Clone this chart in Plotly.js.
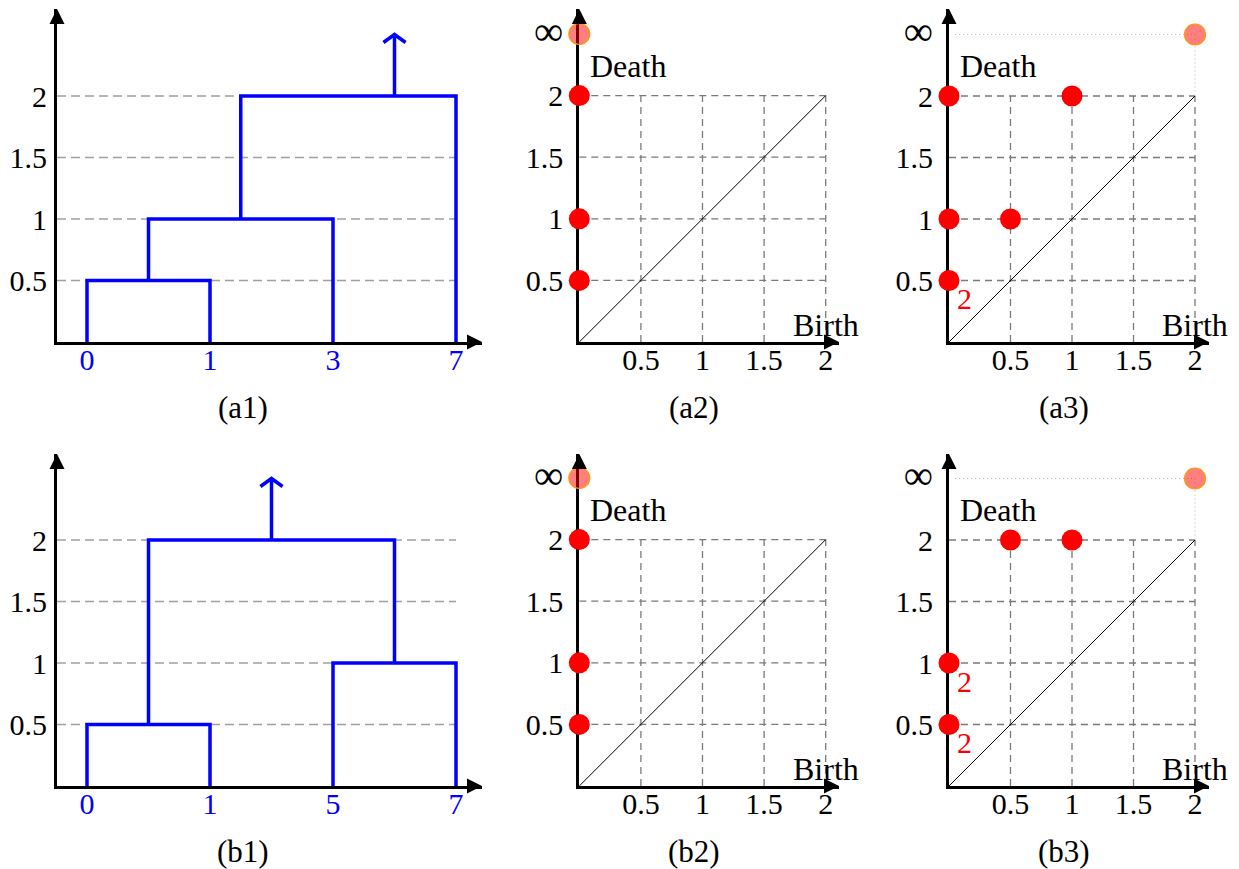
<!DOCTYPE html>
<html><head><meta charset="utf-8">
<script src="https://cdn.plot.ly/plotly-3.0.1.min.js"></script>
<style>html,body{margin:0;padding:0;background:#fff}#chart{width:1239px;height:869px}</style>
</head><body><div id="chart"></div>
<script>
// ---------- data ----------
// (a1) dendrogram
const a1LeafLabels = ['0', '1', '3', '7'];
const a1LeafPos = [0, 1, 2, 3];
const a1MergeLeftX = [0, 0.5, 1.25];
const a1MergeLeftBase = [0, 0.5, 1];
const a1MergeRightX = [1, 2, 3];
const a1MergeRightBase = [0, 0, 0];
const a1MergeHeight = [0.5, 1, 2];
const a1RootX = 2.5, a1RootTop = 2.5;
// (b1) dendrogram
const b1LeafLabels = ['0', '1', '5', '7'];
const b1LeafPos = [0, 1, 2, 3];
const b1MergeLeftX = [0, 2, 0.5];
const b1MergeLeftBase = [0, 0, 0.5];
const b1MergeRightX = [1, 3, 2.5];
const b1MergeRightBase = [0, 0, 1];
const b1MergeHeight = [0.5, 1, 2];
const b1RootX = 1.5, b1RootTop = 2.5;
// tick values
const dendroTickVals = [0.5, 1, 1.5, 2];
const gridTicks = [0.5, 1, 1.5, 2];
const INF = 2.5;
const deathTickVals = [0.5, 1, 1.5, 2, INF];
const deathTickText = ['0.5', '1', '1.5', '2', '<span style="font-size:41px">∞</span>'];
// persistence diagrams (birth, death, multiplicity); infinite bars' births
const a2Birth = [0, 0, 0], a2Death = [0.5, 1, 2], a2Mult = [1, 1, 1], a2InfBirth = [0];
const a3Birth = [0, 0, 0, 0.5, 1], a3Death = [0.5, 1, 2, 1, 2], a3Mult = [2, 1, 1, 1, 1], a3InfBirth = [2];
const b2Birth = [0, 0, 0], b2Death = [0.5, 1, 2], b2Mult = [1, 1, 1], b2InfBirth = [0];
const b3Birth = [0, 0, 0.5, 1], b3Death = [0.5, 1, 2, 2], b3Mult = [2, 2, 1, 1], b3InfBirth = [2];
const captions = ['(a1)', '(a2)', '(a3)', '(b1)', '(b2)', '(b3)'];

// ---------- layout helpers ----------
const FONT = 'Liberation Serif, Times New Roman, serif';
const W = 1239, H = 869;
const fx = p => p / W, fy = p => 1 - p / H;
const BLUE = '#0000ff';
const TICK = 30;

// panel frames in pixels: origin, scale, extent of arrows
const frames = [
  {ox: 87, oy: 342, s: 123, x0: 57, x1: 482, y1: 9, cx: 243, cy: 407, ys: 1},
  {ox: 579.3, oy: 342, s: 123.2, x0: 579.3, x1: 839, y1: 9, cx: 694, cy: 407, ys: 7},
  {ox: 949, oy: 342, s: 123, x0: 949, x1: 1209, y1: 9, cx: 1064, cy: 407, ys: 7},
  {ox: 87, oy: 786, s: 123, x0: 57, x1: 482, y1: 454, cx: 243, cy: 851, ys: 1},
  {ox: 579.3, oy: 786, s: 123.2, x0: 579.3, x1: 839, y1: 454, cx: 694, cy: 851, ys: 7},
  {ox: 949, oy: 786, s: 123, x0: 949, x1: 1209, y1: 454, cx: 1064, cy: 851, ys: 7}
];

const layout = {
  width: W, height: H, margin: {l: 0, r: 0, t: 0, b: 0},
  paper_bgcolor: '#fff', plot_bgcolor: 'rgba(0,0,0,0)',
  showlegend: false, shapes: [], annotations: [],
  font: {family: FONT, size: TICK, color: '#000'}
};
const traces = [];

frames.forEach((f, i) => {
  const k = i + 1;
  const xr = [(f.x0 - f.ox) / f.s, (f.x1 - f.ox) / f.s];
  const yr = [0, (f.oy - f.y1) / f.s];
  const common = {showgrid: false, zeroline: false, showline: true, linewidth: 3, linecolor: '#000',
    ticks: '', layer: 'below traces', fixedrange: true, tickmode: 'array'};
  layout['xaxis' + k] = Object.assign({}, common, {
    domain: [fx(f.x0), fx(f.x1)], range: xr, anchor: 'y' + k, ticklabelstandoff: -11,
    tickfont: {family: FONT, size: TICK, color: '#000'}
  });
  layout['yaxis' + k] = Object.assign({}, common, {
    domain: [fy(f.oy), fy(f.y1)], range: yr, anchor: 'x' + k, ticklabelstandoff: f.ys,
    tickfont: {family: FONT, size: TICK, color: '#000'}
  });
  // arrowheads
  layout.annotations.push({xref: 'x' + k, yref: 'y' + k, x: xr[1], y: 0, ax: -14, ay: 0,
    showarrow: true, arrowhead: 2, arrowwidth: 3, arrowsize: 1, arrowcolor: '#000', text: ''});
  layout.annotations.push({xref: 'x' + k, yref: 'y' + k, x: xr[0], y: yr[1], ax: 0, ay: 14,
    showarrow: true, arrowhead: 2, arrowwidth: 3, arrowsize: 1, arrowcolor: '#000', text: ''});
  // caption
  layout.annotations.push({xref: 'paper', yref: 'paper', x: fx(f.cx), y: fy(f.cy), text: captions[i],
    showarrow: false, xanchor: 'center', yanchor: 'middle', font: {family: FONT, size: 31, color: '#000'}});
});

// ---------- dendrograms ----------
function dendro(k, leafPos, leafLabels, lx, lb, rx, rb, h, rootX, rootTop) {
  const xa = layout['xaxis' + k], ya = layout['yaxis' + k];
  xa.tickvals = leafPos; xa.ticktext = leafLabels; xa.tickfont.color = BLUE;
  ya.tickvals = dendroTickVals;
  // dashed guides
  dendroTickVals.forEach(v => layout.shapes.push({type: 'line', xref: 'x' + k, yref: 'y' + k, layer: 'below',
    x0: xa.range[0], x1: leafPos[leafPos.length - 1], y0: v, y1: v,
    line: {color: '#a0a0a0', width: 1.3, dash: '9px,5px'}}));
  const X = [], Y = [];
  for (let j = 0; j < h.length; j++) {
    X.push(lx[j], lx[j], rx[j], rx[j], null);
    Y.push(lb[j], h[j], h[j], rb[j], null);
  }
  const top = Math.max(...h);
  X.push(rootX, rootX, null, rootX - 0.09, rootX, rootX + 0.09);
  Y.push(top, rootTop, null, rootTop - 0.065, rootTop, rootTop - 0.065);
  traces.push({type: 'scatter', mode: 'lines', x: X, y: Y, xaxis: 'x' + k, yaxis: 'y' + k,
    line: {color: BLUE, width: 3.5}, cliponaxis: false, hoverinfo: 'skip'});
}
dendro(1, a1LeafPos, a1LeafLabels, a1MergeLeftX, a1MergeLeftBase, a1MergeRightX, a1MergeRightBase, a1MergeHeight, a1RootX, a1RootTop);
dendro(4, b1LeafPos, b1LeafLabels, b1MergeLeftX, b1MergeLeftBase, b1MergeRightX, b1MergeRightBase, b1MergeHeight, b1RootX, b1RootTop);

// ---------- persistence diagrams ----------
function diagram(k, birth, death, mult, infBirth) {
  const xa = layout['xaxis' + k], ya = layout['yaxis' + k];
  xa.tickvals = gridTicks;
  ya.tickvals = deathTickVals; ya.ticktext = deathTickText;
  const ax = 'x' + k, ay = 'y' + k;
  const maxG = gridTicks[gridTicks.length - 1];
  gridTicks.forEach(v => {
    layout.shapes.push({type: 'line', xref: ax, yref: ay, layer: 'below', x0: v, x1: v, y0: 0, y1: maxG,
      line: {color: '#7a7a7a', width: 1.3, dash: '7px,5px'}});
    layout.shapes.push({type: 'line', xref: ax, yref: ay, layer: 'below', x0: 0, x1: maxG, y0: v, y1: v,
      line: {color: '#7a7a7a', width: 1.3, dash: '7px,5px'}});
  });
  layout.shapes.push({type: 'line', xref: ax, yref: ay, layer: 'below', x0: 0, y0: 0, x1: maxG, y1: maxG,
    line: {color: '#000', width: 1}});
  infBirth.forEach(b => {
    if (b > 0) {
      layout.shapes.push({type: 'line', xref: ax, yref: ay, layer: 'below', x0: 0.05, x1: b, y0: INF, y1: INF,
        line: {color: '#b5b5b5', width: 1, dash: '1px,3px'}});
      layout.shapes.push({type: 'line', xref: ax, yref: ay, layer: 'below', x0: b, x1: b, y0: INF, y1: maxG,
        line: {color: '#b5b5b5', width: 1, dash: '1px,3px'}});
    }
  });
  traces.push({type: 'scatter', mode: 'markers', x: birth, y: death, xaxis: ax, yaxis: ay, cliponaxis: false,
    marker: {color: '#ff0000', size: 21, line: {width: 0}}, hoverinfo: 'skip'});
  traces.push({type: 'scatter', mode: 'markers', x: infBirth, y: infBirth.map(() => INF), xaxis: ax, yaxis: ay,
    cliponaxis: false, marker: {color: 'rgba(255,0,0,0.5)', size: 21, line: {width: 1.2, color: '#ff9900'}},
    hoverinfo: 'skip'});
  mult.forEach((m, j) => {
    if (m > 1) layout.annotations.push({xref: ax, yref: ay, x: birth[j], y: death[j], text: String(m),
      showarrow: false, xshift: 15, yshift: -18, font: {family: FONT, size: 30, color: '#ff0000'}});
  });
  layout.annotations.push({xref: ax, yref: ay, x: 0.07, y: 2.24, text: 'Death', showarrow: false,
    xanchor: 'left', yanchor: 'middle', font: {family: FONT, size: 32, color: '#000'}});
  layout.annotations.push({xref: ax, yref: ay, x: maxG, y: 0.14, xshift: 35, text: 'Birth', showarrow: false,
    xanchor: 'right', yanchor: 'middle', font: {family: FONT, size: 32, color: '#000'}});
}
diagram(2, a2Birth, a2Death, a2Mult, a2InfBirth);
diagram(3, a3Birth, a3Death, a3Mult, a3InfBirth);
diagram(5, b2Birth, b2Death, b2Mult, b2InfBirth);
diagram(6, b3Birth, b3Death, b3Mult, b3InfBirth);

Plotly.newPlot('chart', traces, layout, {staticPlot: true, displayModeBar: false});
</script>
</body></html>
